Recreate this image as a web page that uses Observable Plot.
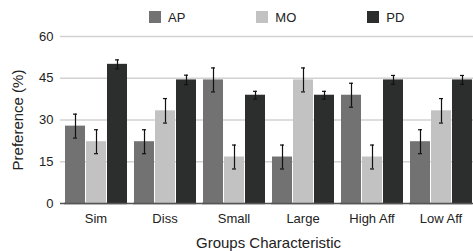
<!DOCTYPE html>
<html><head><meta charset="utf-8">
<script src="https://cdn.jsdelivr.net/npm/d3@7"></script>
<script src="https://cdn.jsdelivr.net/npm/@observablehq/plot@0.6"></script>
<style>
body{margin:0;background:#fff;font-family:"Liberation Sans",Arial,sans-serif;color:#222;}
#legend{height:30px;display:flex;align-items:flex-start;padding-left:149px;box-sizing:border-box;gap:71px;font-size:13px;}
#legend .item{display:flex;align-items:center;margin-top:11px;height:12px;}
#legend .sw{width:12px;height:12px;margin-right:7px;display:inline-block;}
#legend .lab{line-height:12px;position:relative;top:1px;}
#chart{position:relative;width:473px;height:221px;}
#chart svg{display:block;position:absolute;left:0;top:0;}
#chart g[aria-label="y-axis label"], #chart g[aria-label="fx-axis label"]{font-size:15px;}
</style></head><body><div id="legend"></div><div id="chart"></div><script>
const categories = ["Sim","Diss","Small","Large","High Aff","Low Aff"];
const series = ["AP","MO","PD"];
const apValues = [27.8,22.2,44.4,16.7,38.9,22.2];
const moValues = [22.2,33.3,16.7,44.4,16.7,33.3];
const pdValues = [50.0,44.4,38.9,38.9,44.4,44.4];
const apErrors = [4.3,4.3,4.3,4.3,4.3,4.3];
const moErrors = [4.3,4.4,4.3,4.3,4.3,4.4];
const pdErrors = [1.6,1.7,1.4,1.4,1.6,1.6];
const yTicks = [0,15,30,45,60];
const colors = ["#717271","#c1c2c1","#2c2e2d"];

const valuesBySeries = [apValues, moValues, pdValues];
const errorsBySeries = [apErrors, moErrors, pdErrors];
const data = categories.flatMap((c,i)=>series.map((s,j)=>({cat:c, series:s, value:valuesBySeries[j][i], err:errorsBySeries[j][i]})));

const legend = d3.select("#legend");
series.forEach((s,j)=>{
  const it = legend.append("div").attr("class","item");
  it.append("span").attr("class","sw").style("background",colors[j]);
  it.append("span").attr("class","lab").text(s);
});

const common = {width:473, height:221, marginTop:6, marginBottom:48, marginLeft:60, marginRight:-2};
const baseStyle = {stroke:"#555", strokeWidth:1.5};

// background layer: continuous gridlines and baseline across the whole frame
const bg = Plot.plot({
  ...common,
  style:{background:"#fff"},
  y:{domain:[0,60], axis:null},
  marks:[
    Plot.ruleY(yTicks.slice(1), {stroke:"#d2d2d2", strokeWidth:1.5}),
    Plot.ruleY([0], baseStyle)
  ]
});

// foreground layer: grouped bars with error bars and axes
const fg = Plot.plot({
  ...common,
  style:{fontFamily:"Liberation Sans, Arial, sans-serif", fontSize:"13px", color:"#222", background:"transparent"},
  fx:{domain:categories, paddingInner:0.094, paddingOuter:0.0434, label:null},
  x:{domain:series, axis:null, paddingInner:0.05, paddingOuter:0},
  y:{domain:[0,60]},
  color:{domain:series, range:colors},
  marks:[
    Plot.barY(data,{fx:"cat", x:"series", y:"value", fill:"series"}),
    Plot.ruleX(data,{fx:"cat", x:"series", y1:d=>d.value-d.err, y2:d=>d.value+d.err, stroke:"#111", strokeWidth:1.2}),
    Plot.tickY(data,{fx:"cat", x:"series", y:d=>d.value-d.err, stroke:"#111", strokeWidth:1.2, insetLeft:8, insetRight:8}),
    Plot.tickY(data,{fx:"cat", x:"series", y:d=>d.value+d.err, stroke:"#111", strokeWidth:1.2, insetLeft:8, insetRight:8}),
    Plot.ruleY([0], baseStyle),
    Plot.axisY({ticks:yTicks, tickSize:0, tickPadding:11, label:"Preference (%)", labelAnchor:"center", labelOffset:52, labelArrow:"none"}),
    Plot.axisFx({anchor:"bottom", tickSize:0, tickPadding:10, label:"Groups Characteristic", labelAnchor:"center", labelOffset:44, labelArrow:"none"})
  ]
});
const chartEl = document.getElementById("chart");
chartEl.appendChild(bg);
chartEl.appendChild(fg);
</script></body></html>
